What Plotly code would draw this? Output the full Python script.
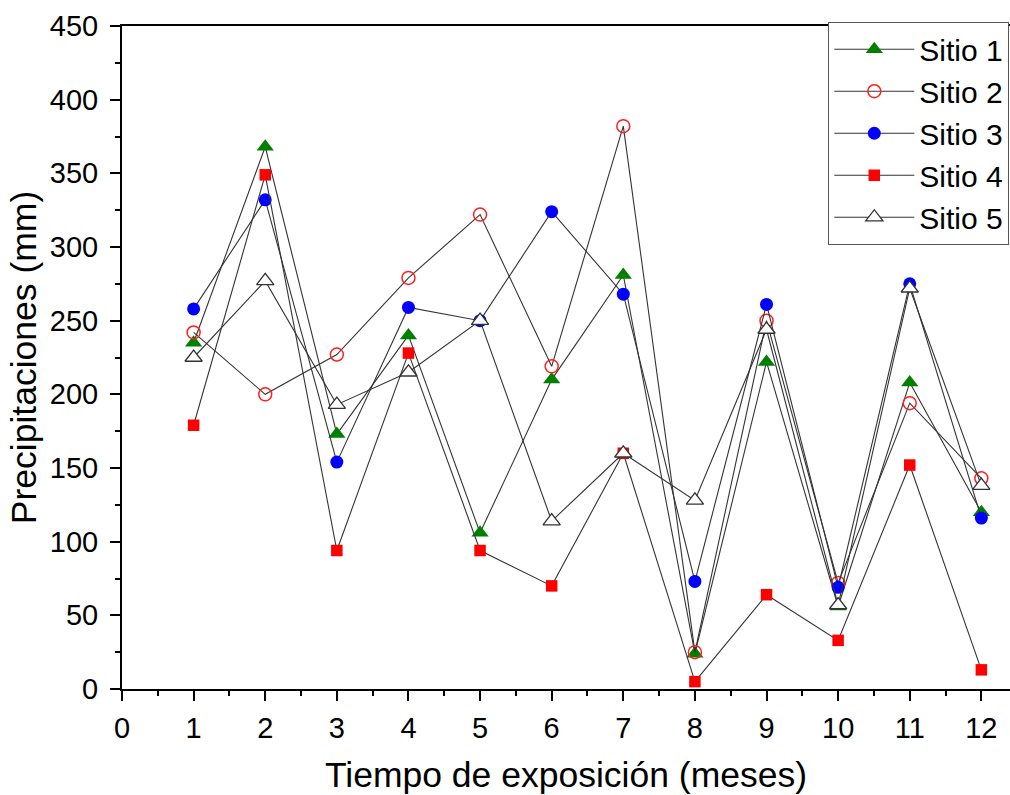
import plotly.graph_objects as go

months = [1, 2, 3, 4, 5, 6, 7, 8, 9, 10, 11, 12]
sitio1 = [235, 368, 173, 240, 106, 210, 281, 24, 222, 56, 208, 120]
sitio2 = [242, 200, 227, 279, 322, 219, 382, 25, 250, 72, 194, 143]
sitio3 = [258, 332, 154, 259, 250, 324, 268, 73, 261, 69, 275, 116]
sitio4 = [179, 349, 94, 228, 94, 70, 160, 5, 64, 33, 152, 13]
sitio5 = [225, 277, 193, 215, 250, 114, 160, 128, 244, 57, 272, 138]

names = ["Sitio 1", "Sitio 2", "Sitio 3", "Sitio 4", "Sitio 5"]
series = [sitio1, sitio2, sitio3, sitio4, sitio5]
markers = [
    dict(symbol="triangle-up", size=15, color="#008000", line=dict(width=0)),
    dict(symbol="circle-open", size=13, color="#ff2020", line=dict(width=1.5)),
    dict(symbol="circle", size=13, color="#0000ff", line=dict(width=0)),
    dict(symbol="square", size=11.5, color="#ff0000", line=dict(width=0)),
    dict(symbol="triangle-up", size=15, color="#ffffff", line=dict(width=1.3, color="#333333")),
]

FONT = "Arial, Liberation Sans, sans-serif"

fig = go.Figure()
for name, vals, mk in zip(names, series, markers):
    fig.add_trace(go.Scatter(
        x=months, y=vals, name=name, mode="lines+markers",
        line=dict(color="#333333", width=1.1),
        marker=mk,
    ))

fig.update_layout(
    width=1010, height=795,
    margin=dict(l=122, r=0, t=26, b=106),
    paper_bgcolor="white", plot_bgcolor="white",
    font=dict(family=FONT, color="black"),
    showlegend=True,
    legend=dict(
        x=0.999, y=1.006, xanchor="right", yanchor="top",
        bgcolor="white", bordercolor="#555555", borderwidth=1.2,
        font=dict(size=30, family=FONT, color="black"),
        tracegroupgap=0, itemwidth=80,
    ),
)

fig.update_xaxes(
    range=[0, 12.4], tickmode="array", tickvals=list(range(0, 13)),
    ticktext=[str(v) for v in range(0, 13)],
    showline=True, linecolor="black", linewidth=2, mirror=True,
    ticks="outside", ticklen=10, tickwidth=2, tickcolor="black",
    minor=dict(dtick=0.5, tick0=0, ticks="outside", ticklen=5, tickwidth=2, tickcolor="black", showgrid=False),
    showgrid=False, zeroline=False, ticklabelstandoff=2,
    tickfont=dict(size=29, family=FONT, color="black"),
    title=dict(text="Tiempo de exposición (meses)", font=dict(size=35.5, family=FONT, color="black"), standoff=20),
)
fig.update_yaxes(
    range=[0, 450], tickmode="linear", tick0=0, dtick=50,
    showline=True, linecolor="black", linewidth=2, mirror=False,
    ticks="outside", ticklen=10, tickwidth=2, tickcolor="black",
    minor=dict(dtick=25, tick0=0, ticks="outside", ticklen=5, tickwidth=2, tickcolor="black", showgrid=False),
    showgrid=False, zeroline=False, ticklabelstandoff=6,
    tickfont=dict(size=29, family=FONT, color="black"),
    title=dict(text="Precipitaciones (mm)", font=dict(size=35.5, family=FONT, color="black"), standoff=2),
)

fig.write_html("out.html", config={"displayModeBar": False},
               post_script="document.body.style.margin='0';document.body.style.padding='0';")
